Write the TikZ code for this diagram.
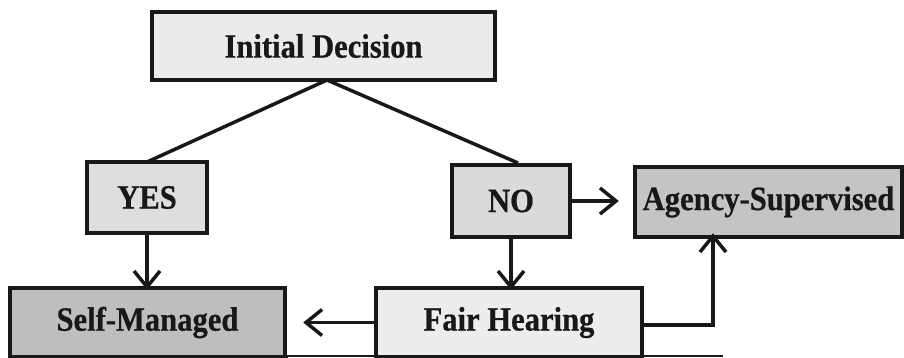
\documentclass[tikz,border=0pt]{standalone}
\usepackage{fontspec}
\setmainfont{Liberation Serif}
\newfontfamily\boxfont[FakeStretch=0.9,FakeBold=0.6]{Liberation Serif Bold}
\usetikzlibrary{arrows.meta}
\definecolor{inkc}{HTML}{181818}
\definecolor{fillInit}{HTML}{EBEBEB}
\definecolor{fillYes}{HTML}{DEDEDE}
\definecolor{fillNo}{HTML}{DADADA}
\definecolor{fillAgency}{HTML}{C4C4C4}
\definecolor{fillSelf}{HTML}{BEBEBE}
\definecolor{fillFair}{HTML}{EDEDED}
\tikzset{
  box/.style={draw=inkc, line width=4.5pt, inner sep=0pt, text=inkc,
    font=\boxfont\fontsize{34}{34}\selectfont},
  link/.style={draw=inkc, line width=3.5pt},
  arr/.style={link, -{Straight Barb[length=16pt,width=26pt]}},
}
\begin{document}
\begin{tikzpicture}[x=1pt,y=-1pt]
\useasboundingbox (0,0) rectangle (904,358);
\node[box, fill=fillInit, minimum width=343pt, minimum height=68pt] (init) at (323.5,46) {Initial Decision};
\node[box, fill=fillYes, minimum width=120pt, minimum height=71pt] (yes) at (147,197.5) {YES};
\node[box, fill=fillNo, minimum width=118pt, minimum height=72pt] (no) at (511,201) {NO};
\node[box, fill=fillAgency, minimum width=267pt, minimum height=70pt] (agency) at (768.5,202) {Agency-Supervised};
\node[box, fill=fillSelf, minimum width=275pt, minimum height=69pt] (self) at (147.5,322.5) {Self-Managed};
\node[box, fill=fillFair, minimum width=266pt, minimum height=69pt] (fair) at (509,322.5) {Fair Hearing};
\coordinate (apex) at (327,80);
\coordinate (yestop) at (147,162);
\coordinate (notop) at (518,163);
\coordinate (bend) at (713,325);
\coordinate (lineend) at (723,356);
\draw[link] (apex) -- (yestop);
\draw[link] (apex) -- (notop);
\draw[arr] (yes.south) -- ([yshift=-4pt]yes.south |- self.north);
\draw[arr] (no.south) -- ([yshift=-4pt]no.south |- fair.north);
\draw[arr] (no.east) -- ([xshift=-14pt]agency.west |- no.east);
\draw[arr] (fair.west) -- ([xshift=16pt]self.east |- fair.west);
\draw[arr] (fair.east |- bend) -- (bend) -- ([yshift=6pt]bend |- agency.south);
\draw[inkc, line width=2pt] (self.south east) -- (lineend -| self.east) -- (lineend);
\end{tikzpicture}
\end{document}
